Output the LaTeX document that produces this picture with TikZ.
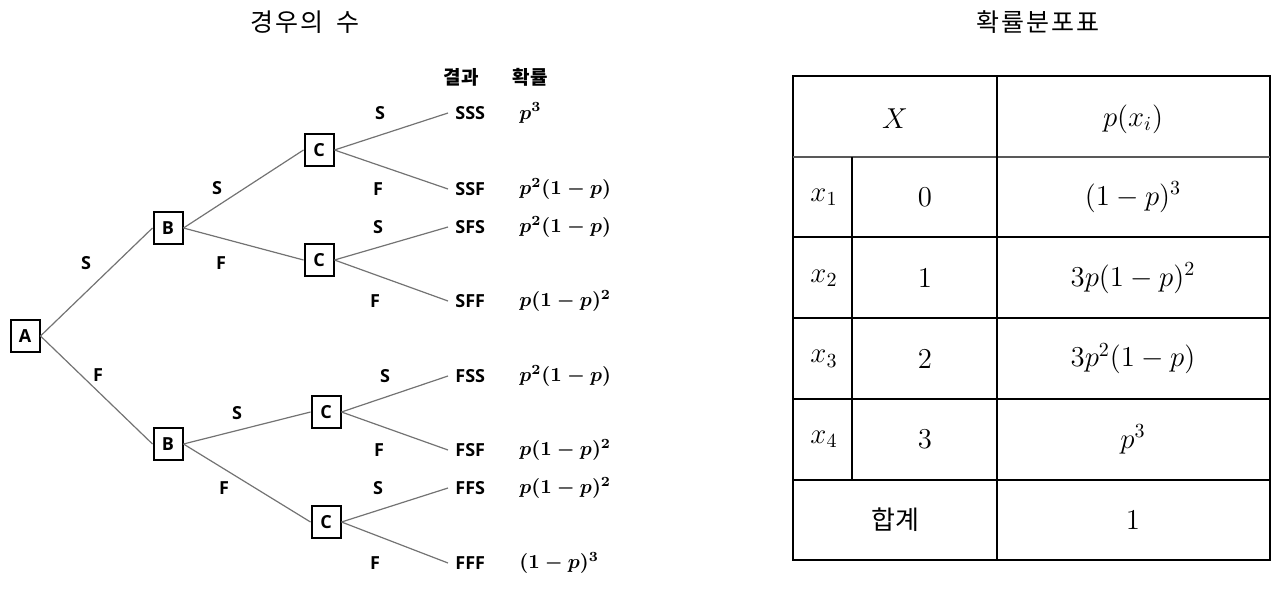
\documentclass[tikz,border=0pt]{standalone}
\usepackage{fontspec}
\setsansfont{Open Sans}
\newfontfamily\kor{Noto Sans CJK KR}
\newfontfamily\kortitle{Noto Sans CJK KR}[LetterSpace=8]

\begin{document}
\begin{tikzpicture}
[x=0.5pt,y=-0.5pt,
    box/.style={draw,line width=1pt,minimum width=14.5pt,minimum height=16pt,inner sep=0pt,
        font=\sffamily\bfseries\fontsize{9}{10}\selectfont},
    lab/.style={inner sep=1pt,font=\sffamily\bfseries\fontsize{9}{10}\selectfont},
    outcome/.style={lab,anchor=west,inner sep=3.5pt},
    prob/.style={anchor=west,inner sep=0pt,font=\boldmath\fontsize{10}{12}\selectfont},
    hdr/.style={font=\kor\bfseries\fontsize{9.5}{10}\selectfont},
    branch/.style={black!55,line width=0.6pt},
    title/.style={font=\kortitle\fontsize{12.5}{15}\selectfont},
    tab/.style={line width=0.6pt},
    tabhead/.style={black!65,line width=1pt},
    cell/.style={font=\fontsize{14}{16}\selectfont}]
\useasboundingbox (0,0) rectangle (1284,594);
%%%%%%%%%%
%% titles
\node[title] (ttree) at (305,22) {경우의\hspace{0.5em}수};
\node[title] (ttab) at (1038,22) {확률분포표};
%%%%%%%%%%
%% tree
\node[box] (a) at (25,336) {A};
\node[box] (b1) at (168,228) {B};
\node[box] (b2) at (168,444) {B};
\node[box] (c1) at (319,150) {C};
\node[box] (c2) at (319,260) {C};
\node[box] (c3) at (326,412) {C};
\node[box] (c4) at (326,522) {C};
%%
\draw[branch] (a.east) -- (b1.west);
\draw[branch] (a.east) -- (b2.west);
\draw[branch] (b1.east) -- (c1.west);
\draw[branch] (b1.east) -- (c2.west);
\draw[branch] (b2.east) -- (c3.west);
\draw[branch] (b2.east) -- (c4.west);
%%
\node[lab] (la1) at (86,263) {S};
\node[lab] (la2) at (98,375) {F};
\node[lab] (lb1) at (217,188) {S};
\node[lab] (lb2) at (221,263) {F};
\node[lab] (lb3) at (237,413) {S};
\node[lab] (lb4) at (224,488) {F};
%%
\node[hdr] (res) at (461,77) {결과};
\node[hdr] (prb) at (530,77) {확률};
%% leaves
\foreach \nm/\txt/\y/\src/\sfl/\lx/\pr in {
    sss/SSS/113/c1/S/380/{$p^3$},
    ssf/SSF/189/c1/F/378/{$p^2(1-p)$},
    sfs/SFS/227/c2/S/378/{$p^2(1-p)$},
    sff/SFF/301/c2/F/375/{$p(1-p)^2$},
    fss/FSS/376/c3/S/385/{$p^2(1-p)$},
    fsf/FSF/450/c3/F/379/{$p(1-p)^2$},
    ffs/FFS/488/c4/S/378/{$p(1-p)^2$},
    fff/FFF/563/c4/F/375/{$(1-p)^3$}}
{
    \node[outcome] (\nm) at (448,\y) {\txt};
    \node[lab] (\nm-l) at (\lx,\y) {\sfl};
    \node[prob] (\nm-p) at (519,\y) {\pr};
    \draw[branch] (\src.east) -- (\nm.west);
}
%%%%%%%%%%
%% table
\draw[tab] (793,76) rectangle (1270,560);
\foreach \y in {237,318,399,480}
    \draw[tab] (793,\y) -- (1270,\y);
\draw[tabhead] (793,157) -- (1270,157);
\draw[tab] (997,76) -- (997,560);
\draw[tab] (852,157) -- (852,480);
%%
\node[cell] (hx) at (895,119) {$X$};
\node[cell] (hp) at (1133,119) {$p(x_i)$};
\foreach \i/\v/\pr in {1/0/{(1-p)^3},2/1/{3p(1-p)^2},3/2/{3p^2(1-p)},4/3/{p^3}}
{
    \node[cell] (x\i) at (824,{116.5+80.75*\i}) {$x_{\i}$};
    \node[cell] (v\i) at (925,{116.5+80.75*\i}) {$\v$};
    \node[cell] (p\i) at (1133,{116.5+80.75*\i}) {$\pr$};
}
\node[cell,font=\kor\fontsize{13}{15}\selectfont] (sum) at (895,520) {합계};
\node[cell] (one) at (1133,520) {$1$};
\end{tikzpicture}
\end{document}
